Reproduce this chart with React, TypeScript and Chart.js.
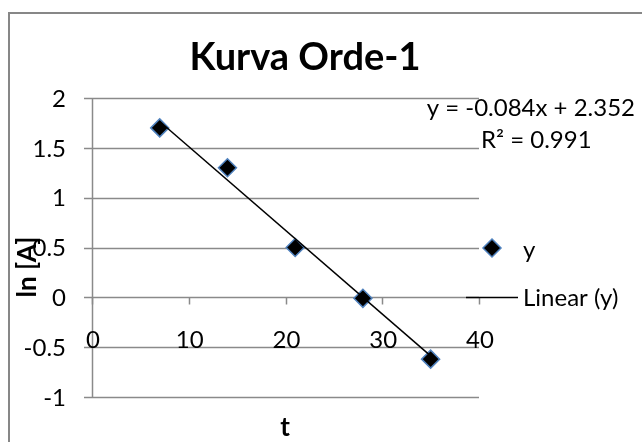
import React, { useEffect, useRef } from "react";
import { Chart, registerables } from "chart.js";

Chart.register(...registerables);

const titleText = "Kurva Orde-1";
const xTitle = "t";
const yTitle = "ln [A]";
const seriesName = "y";
const trendName = "Linear (y)";
const equationText = "y = -0.084x + 2.352";
const r2Text = "R² = 0.991";

const tValues = [7, 14, 21, 28, 35];
const lnA = [1.7, 1.3, 0.5, -0.01, -0.62];
const trendX = [7, 35];
const trendY = [1.764, -0.588];

const xTicks = [0, 10, 20, 30, 40];
const yTicks = [-1, -0.5, 0, 0.5, 1, 1.5, 2];

const FONT = "Lato, 'Open Sans', sans-serif";
const GRID = "#8a8a8a";
const MARK_BORDER = "#4f81bd";

const decorPlugin = {
  id: "decor",
  beforeDatasetsDraw(chart: any) {
    const ctx = chart.ctx as CanvasRenderingContext2D;
    const xs = chart.scales.x;
    const ys = chart.scales.y;
    const area = chart.chartArea;
    ctx.save();
    // outer border
    ctx.strokeStyle = "#878787";
    ctx.lineWidth = 2;
    ctx.strokeRect(9, 13, 700, 500);

    // horizontal gridlines
    ctx.strokeStyle = GRID;
    ctx.lineWidth = 1.5;
    for (const v of yTicks) {
      const py = Math.round(ys.getPixelForValue(v)) + 0.5;
      ctx.beginPath();
      ctx.moveTo(area.left - 8, py);
      ctx.lineTo(area.right, py);
      ctx.stroke();
    }
    // y axis line
    ctx.beginPath();
    ctx.moveTo(area.left + 0.5, area.top);
    ctx.lineTo(area.left + 0.5, area.bottom);
    ctx.stroke();
    // x axis ticks on y=0
    const y0 = Math.round(ys.getPixelForValue(0)) + 0.5;
    for (const v of xTicks) {
      const px = Math.round(xs.getPixelForValue(v)) + 0.5;
      ctx.beginPath();
      ctx.moveTo(px, y0);
      ctx.lineTo(px, y0 + 7);
      ctx.stroke();
    }

    ctx.fillStyle = "#000";
    // y tick labels
    ctx.font = `24px ${FONT}`;
    ctx.textAlign = "right";
    ctx.textBaseline = "middle";
    for (const v of yTicks) {
      ctx.fillText(String(v), area.left - 26, ys.getPixelForValue(v) + 1);
    }
    // x tick labels
    ctx.textAlign = "center";
    for (const v of xTicks) {
      ctx.fillText(String(v), xs.getPixelForValue(v) + 1, y0 + 43);
    }

    // title
    ctx.font = `bold 38px ${FONT}`;
    ctx.textAlign = "center";
    ctx.fillText(titleText, 305, 58);

    // axis titles
    ctx.font = `bold 26px ${FONT}`;
    ctx.fillText(xTitle, 285, 428);
    ctx.save();
    ctx.translate(28, 267);
    ctx.rotate(-Math.PI / 2);
    ctx.fillText(yTitle, 0, 0);
    ctx.restore();

    // trendline label
    ctx.font = `24px ${FONT}`;
    ctx.textAlign = "right";
    ctx.fillText(equationText, 635, 108);
    ctx.textAlign = "left";
    ctx.fillText(r2Text, 481, 140);

    // legend
    ctx.fillText(seriesName, 523, 250);
    ctx.fillText(trendName, 523, 298);
    ctx.strokeStyle = "#000";
    ctx.lineWidth = 1.5;
    ctx.beginPath();
    ctx.moveTo(466, 297.5);
    ctx.lineTo(518, 297.5);
    ctx.stroke();
    // diamond
    ctx.fillStyle = "#000";
    ctx.strokeStyle = MARK_BORDER;
    ctx.lineWidth = 1.5;
    ctx.beginPath();
    ctx.moveTo(492, 239);
    ctx.lineTo(501, 248);
    ctx.lineTo(492, 257);
    ctx.lineTo(483, 248);
    ctx.closePath();
    ctx.fill();
    ctx.stroke();
    ctx.restore();
  },
};

export default function App() {
  const ref = useRef<HTMLCanvasElement | null>(null);
  useEffect(() => {
    if (!ref.current) return;
    const chart = new Chart(ref.current, {
      type: "scatter",
      data: {
        datasets: [
          {
            label: trendName,
            data: trendX.map((x, i) => ({ x, y: trendY[i] })),
            showLine: true,
            borderColor: "#000",
            borderWidth: 1.5,
            pointRadius: 0,
            order: 0,
          },
          {
            label: seriesName,
            data: tValues.map((x, i) => ({ x, y: lnA[i] })),
            pointStyle: "rectRot",
            pointRadius: 9,
            backgroundColor: "#000",
            borderColor: MARK_BORDER,
            borderWidth: 1.5,
            showLine: false,
            order: 1,
          },
        ],
      },
      options: {
        responsive: false,
        animation: false,
        devicePixelRatio: 1,
        layout: { padding: { left: 92, top: 98, right: 163, bottom: 45 } },
        plugins: { legend: { display: false }, title: { display: false }, tooltip: { enabled: false } },
        scales: {
          x: {
            type: "linear",
            min: 0,
            max: 40,
            ticks: { display: false },
            grid: { display: false },
            border: { display: false },
            afterFit: (s: any) => { s.height = 0; },
          },
          y: {
            type: "linear",
            min: -1,
            max: 2,
            ticks: { display: false },
            grid: { display: false },
            border: { display: false },
            afterFit: (s: any) => { s.width = 0; },
          },
        },
      },
      plugins: [decorPlugin],
    });
    return () => chart.destroy();
  }, []);
  return (
    <div style={{ position: "fixed", left: 0, top: 0, width: 642, height: 442, background: "#fff" }}>
      <canvas ref={ref} width={642} height={442} />
    </div>
  );
}
